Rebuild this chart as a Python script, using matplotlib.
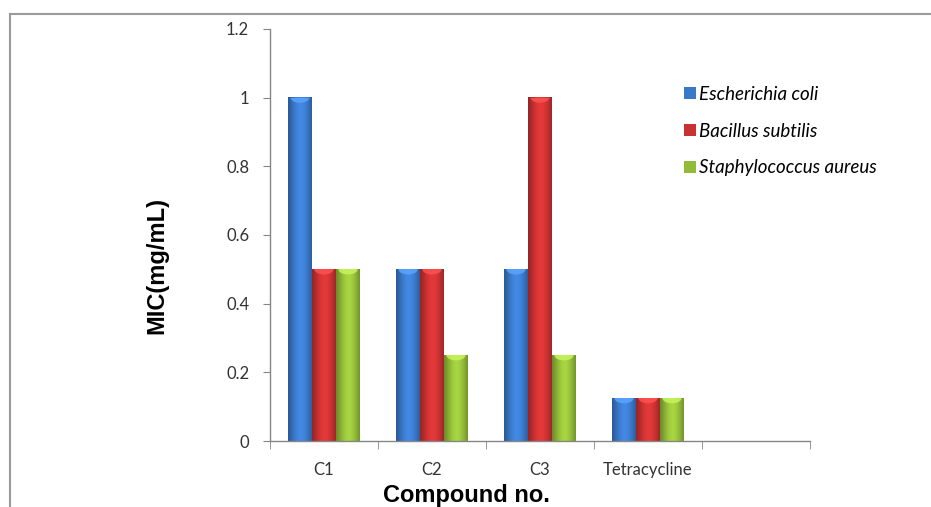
import numpy as np
import matplotlib.pyplot as plt
from matplotlib.patches import Patch, Ellipse
from matplotlib.lines import Line2D
from matplotlib.colors import to_rgb

# data
compounds = ['C1', 'C2', 'C3', 'Tetracycline', '']
e_coli = [1.0, 0.5, 0.5, 0.125, 0]
b_subtilis = [0.5, 0.5, 1.0, 0.125, 0]
s_aureus = [0.5, 0.25, 0.25, 0.125, 0]
series_names = ['Escherichia coli', 'Bacillus subtilis', 'Staphylococcus aureus']
series_colors = ['#3a78c8', '#c83232', '#93bb3a']

fig = plt.figure(figsize=(9.31, 5.07), dpi=100)
ax = fig.add_axes([0.290, 0.130, 0.580, 0.813])

x = np.arange(len(compounds))
w = 0.222
offsets = [-w, 0, w]

def shade(col, n=64):
    # horizontal shading to fake the cylinder look
    base = np.array(to_rgb(col))
    t = np.linspace(0, 1, n)
    k = 0.72 + 0.42 * np.sin(np.pi * (t * 0.85 + 0.05)) ** 1.5
    img = np.clip(base[None, :] * k[:, None], 0, 1)
    return img[None, :, :]

for vals, off, col in zip([e_coli, b_subtilis, s_aureus], offsets, series_colors):
    bars = ax.bar(x + off, vals, w, color='none', edgecolor='none')
    for b in bars:
        h = b.get_height()
        if h <= 0:
            continue
        x0 = b.get_x()
        ax.imshow(shade(col), extent=(x0, x0 + w, 0, h), aspect='auto',
                  interpolation='bilinear', zorder=2)
        cap = Ellipse((x0 + w / 2, h), w * 0.8, 0.03,
                      facecolor=[min(1, c * 1.2 + 0.08) for c in to_rgb(col)],
                      edgecolor='none', alpha=0.85, zorder=3)
        ax.add_patch(cap)
        cap.set_clip_path(b)

ax.set_xlim(-0.5, len(compounds) - 0.5)
ax.set_ylim(0, 1.2)
ax.set_yticks(np.arange(0, 1.21, 0.2))
ax.set_yticklabels(['0', '0.2', '0.4', '0.6', '0.8', '1', '1.2'])
ax.set_xticks(x)
ax.set_xticklabels(compounds)
ax.set_xticks(np.arange(-0.5, len(compounds), 1), minor=True)
ax.tick_params(axis='x', which='major', length=0, pad=15)
ax.tick_params(axis='x', which='minor', length=6, color='#868686', direction='out')
ax.tick_params(axis='y', length=5, color='#868686', pad=10)
ax.tick_params(labelsize=12, labelcolor='#333333')
for lab in ax.get_xticklabels() + ax.get_yticklabels():
    lab.set_family('Lato')

for s in ['top', 'right']:
    ax.spines[s].set_visible(False)
for s in ['left', 'bottom']:
    ax.spines[s].set_color('#868686')
    ax.spines[s].set_linewidth(1.0)

ax.set_ylabel('MIC(mg/mL)', fontsize=17, fontweight='bold', family='Liberation Sans')
ax.yaxis.set_label_coords(-0.189, 0.427)
ax.set_xlabel('Compound no.', fontsize=17, fontweight='bold', family='Liberation Sans')
ax.xaxis.set_label_coords(0.363, -0.103)

handles = [Patch(facecolor=c, edgecolor='none') for c in series_colors]
fig.legend(handles, series_names, loc='upper left', bbox_to_anchor=(0.717, 0.864),
           frameon=False, handlelength=0.6, handleheight=0.6, handletextpad=0.2,
           labelspacing=1.05, prop={'family': 'Lato', 'style': 'italic', 'size': 13.5})

# chart frame (top and left only are visible)
fig.add_artist(Line2D([10 / 931, 1], [1 - 14 / 507, 1 - 14 / 507], color='#9a9a9a', lw=1.5))
fig.add_artist(Line2D([10 / 931, 10 / 931], [0, 1 - 14 / 507], color='#9a9a9a', lw=1.5))

fig.savefig('out.png', dpi=100)
